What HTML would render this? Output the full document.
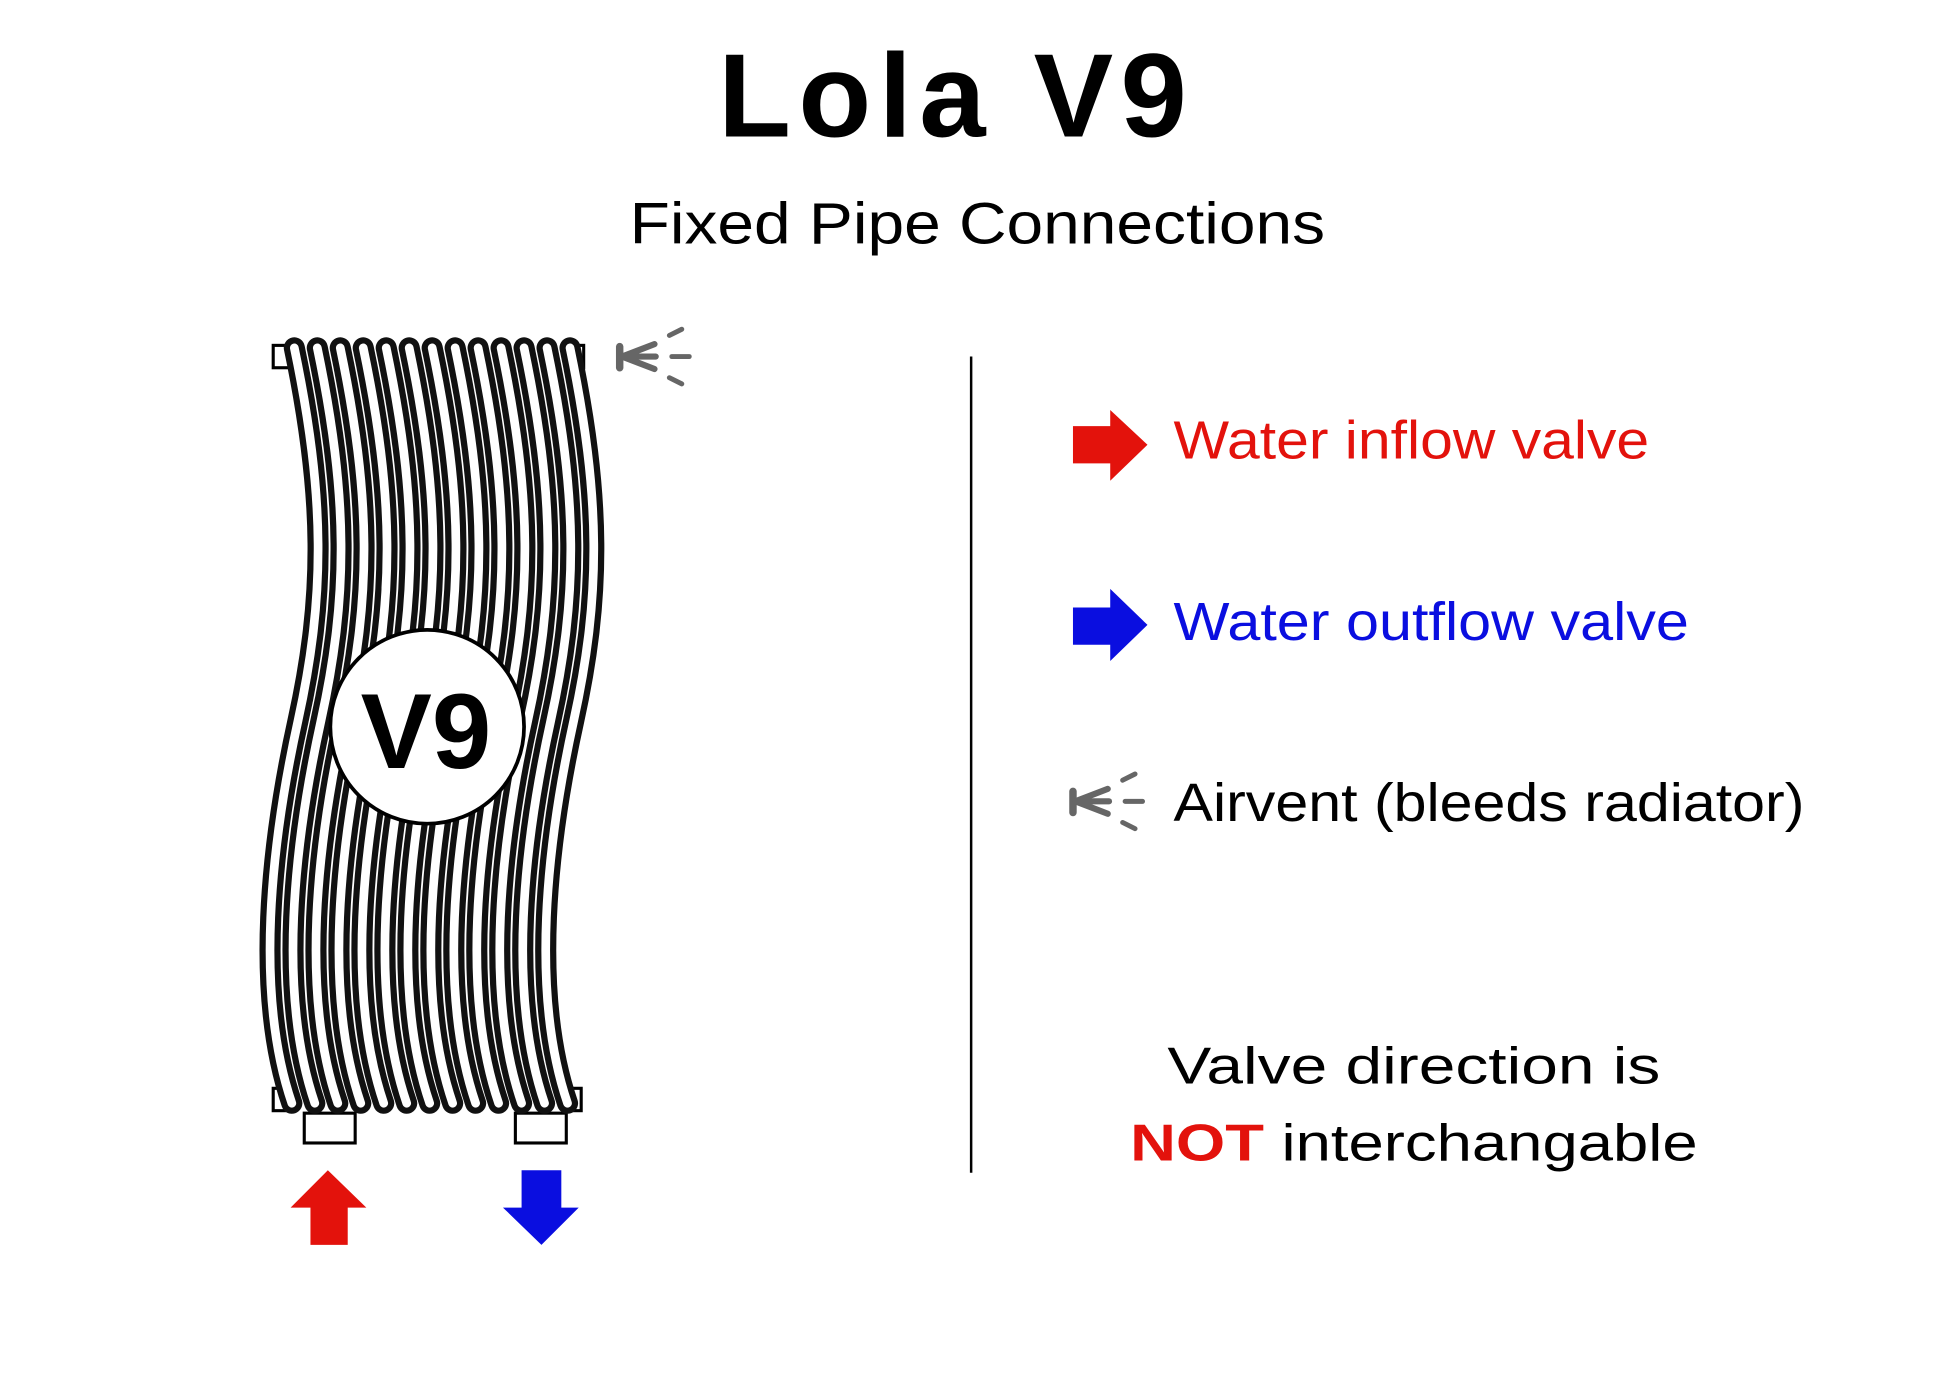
<!DOCTYPE html>
<html><head><meta charset="utf-8"><style>
html,body{margin:0;padding:0;background:#fff;width:1946px;height:1384px;overflow:hidden}
svg{display:block}
text{font-family:"Liberation Sans",sans-serif}
</style></head><body>
<svg width="1946" height="1384" viewBox="0 0 1567 1114" preserveAspectRatio="none" xmlns="http://www.w3.org/2000/svg">
<rect width="1567" height="1114" fill="#fff"/>
<text x="770" y="110" text-anchor="middle" font-size="96" font-weight="bold" letter-spacing="6" fill="#000">Lola V9</text>
<text x="507" y="196" font-size="47" textLength="560" lengthAdjust="spacingAndGlyphs" fill="#000">Fixed Pipe Connections</text>

<!-- radiator -->
<g fill="#fff" stroke="#000" stroke-width="2.5">
<rect x="220" y="278" width="14" height="18"/><rect x="456" y="278" width="14" height="18"/>
<rect x="220" y="876" width="14" height="18"/><rect x="454" y="876" width="14" height="18"/>
<rect x="245" y="896" width="41" height="24"/><rect x="415" y="896" width="41" height="24"/>
</g>
<defs><path id="t" d="M237 280 C262 400,262 480,240 580 S205 800,235 888"/></defs>
<g fill="none" stroke-linecap="round">
<use href="#t" x="0" stroke="#111" stroke-width="17"/><use href="#t" x="0" stroke="#fff" stroke-width="7"/>
<use href="#t" x="18.5" stroke="#111" stroke-width="17"/><use href="#t" x="18.5" stroke="#fff" stroke-width="7"/>
<use href="#t" x="37" stroke="#111" stroke-width="17"/><use href="#t" x="37" stroke="#fff" stroke-width="7"/>
<use href="#t" x="55.5" stroke="#111" stroke-width="17"/><use href="#t" x="55.5" stroke="#fff" stroke-width="7"/>
<use href="#t" x="74" stroke="#111" stroke-width="17"/><use href="#t" x="74" stroke="#fff" stroke-width="7"/>
<use href="#t" x="92.5" stroke="#111" stroke-width="17"/><use href="#t" x="92.5" stroke="#fff" stroke-width="7"/>
<use href="#t" x="111" stroke="#111" stroke-width="17"/><use href="#t" x="111" stroke="#fff" stroke-width="7"/>
<use href="#t" x="129.5" stroke="#111" stroke-width="17"/><use href="#t" x="129.5" stroke="#fff" stroke-width="7"/>
<use href="#t" x="148" stroke="#111" stroke-width="17"/><use href="#t" x="148" stroke="#fff" stroke-width="7"/>
<use href="#t" x="166.5" stroke="#111" stroke-width="17"/><use href="#t" x="166.5" stroke="#fff" stroke-width="7"/>
<use href="#t" x="185" stroke="#111" stroke-width="17"/><use href="#t" x="185" stroke="#fff" stroke-width="7"/>
<use href="#t" x="203.5" stroke="#111" stroke-width="17"/><use href="#t" x="203.5" stroke="#fff" stroke-width="7"/>
<use href="#t" x="222" stroke="#111" stroke-width="17"/><use href="#t" x="222" stroke="#fff" stroke-width="7"/>
</g>
<circle cx="344" cy="585" r="78" fill="#fff" stroke="#000" stroke-width="3"/>
<text x="343" y="618" text-anchor="middle" font-size="86" font-weight="bold" fill="#000">V9</text>

<!-- arrows -->
<polygon points="264,942 295,972 280,972 280,1002 250,1002 250,972 234,972" fill="#e3120c"/>
<polygon points="420,942 452,942 452,972 466,972 436,1002 405,972 420,972" fill="#0a0ee0"/>

<!-- airvent icons -->
<g id="av" stroke="#666" stroke-linecap="round" fill="none">
<line x1="499" y1="279" x2="499" y2="296" stroke-width="6"/>
<line x1="501" y1="287" x2="527" y2="277" stroke-width="5"/>
<line x1="501" y1="287" x2="528" y2="287" stroke-width="5"/>
<line x1="501" y1="287" x2="527" y2="297" stroke-width="5"/>
<line x1="539" y1="270" x2="549" y2="265" stroke-width="4"/>
<line x1="541" y1="287" x2="555" y2="287" stroke-width="4"/>
<line x1="539" y1="304" x2="549" y2="309" stroke-width="4"/>
</g>
<use href="#av" x="365" y="358"/>

<line x1="782" y1="287" x2="782" y2="944" stroke="#000" stroke-width="2"/>

<polygon points="864,343 894,343 894,330 924,358 894,387 894,373 864,373" fill="#e3120c"/>
<text x="945" y="369" font-size="43" textLength="383" lengthAdjust="spacingAndGlyphs" fill="#e3120c">Water inflow valve</text>
<polygon points="864,489 894,489 894,474 924,503 894,532 894,519 864,519" fill="#0a0ee0"/>
<text x="945" y="515" font-size="43" textLength="415" lengthAdjust="spacingAndGlyphs" fill="#0a0ee0">Water outflow valve</text>
<text x="945" y="661" font-size="43" textLength="508" lengthAdjust="spacingAndGlyphs" fill="#000">Airvent (bleeds radiator)</text>

<text x="940" y="872" font-size="42" textLength="397" lengthAdjust="spacingAndGlyphs" fill="#000">Valve direction is</text>
<text x="910" y="934" font-size="42" textLength="457" lengthAdjust="spacingAndGlyphs" fill="#000"><tspan font-weight="bold" fill="#e3120c">NOT</tspan> interchangable</text>
</svg>
</body></html>
